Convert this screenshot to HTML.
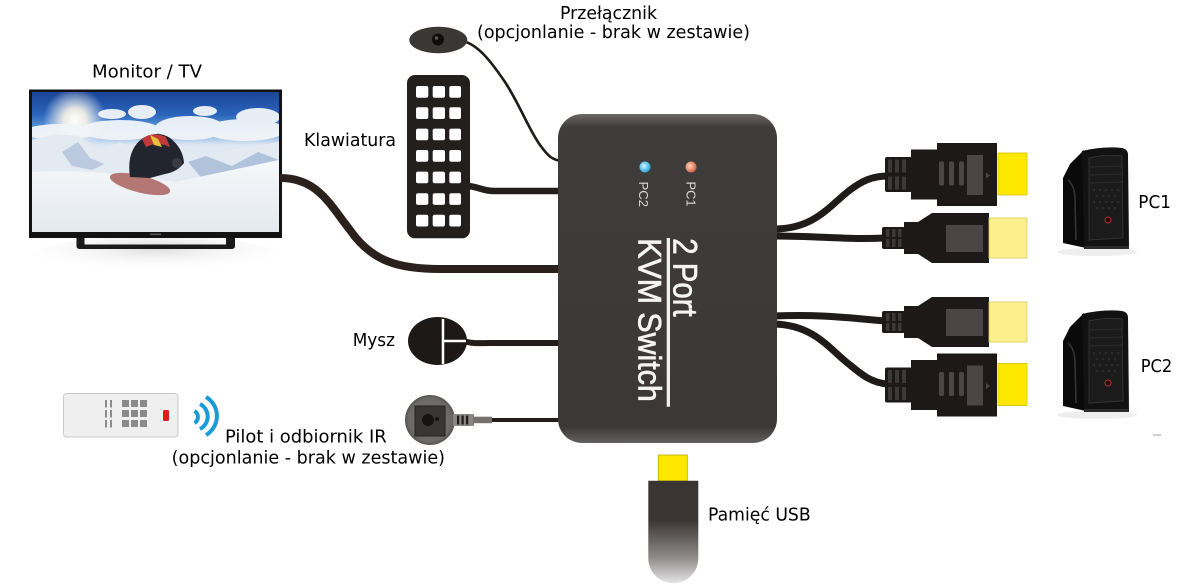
<!DOCTYPE html>
<html><head><meta charset="utf-8"><style>
html,body{margin:0;padding:0;background:#fff;}
svg{display:block;}
.lb{font-family:"DejaVu Sans","Liberation Sans",sans-serif;font-size:17.5px;fill:#000;}
</style></head><body>
<svg width="1200" height="588" viewBox="0 0 1200 588" xmlns="http://www.w3.org/2000/svg">
<defs>
  <linearGradient id="sky" x1="0" y1="0" x2="0" y2="1">
    <stop offset="0" stop-color="#1a4596"/>
    <stop offset="0.16" stop-color="#2a64bb"/>
    <stop offset="0.26" stop-color="#5d9ad8"/>
    <stop offset="0.38" stop-color="#dfe8f2"/>
    <stop offset="1" stop-color="#eef2f6"/>
  </linearGradient>
  <radialGradient id="sun" cx="0.5" cy="0.5" r="0.5">
    <stop offset="0" stop-color="#ffffff" stop-opacity="1"/>
    <stop offset="0.35" stop-color="#fff8e8" stop-opacity="0.9"/>
    <stop offset="1" stop-color="#ffffff" stop-opacity="0"/>
  </radialGradient>
  <linearGradient id="snow" x1="0" y1="0" x2="0" y2="1">
    <stop offset="0" stop-color="#f6f8fa"/>
    <stop offset="1" stop-color="#e4e9ef"/>
  </linearGradient>
  <radialGradient id="refl" cx="0.5" cy="0.3" r="0.6">
    <stop offset="0" stop-color="#dcdcdc"/>
    <stop offset="1" stop-color="#ffffff" stop-opacity="0"/>
  </radialGradient>
  <linearGradient id="box" x1="0" y1="0" x2="0" y2="1">
    <stop offset="0" stop-color="#6a6766"/>
    <stop offset="0.04" stop-color="#3f3c3b"/>
    <stop offset="0.95" stop-color="#3b3837"/>
    <stop offset="1" stop-color="#636060"/>
  </linearGradient>
  <linearGradient id="usb" x1="0" y1="0" x2="0" y2="1">
    <stop offset="0" stop-color="#3a3533"/>
    <stop offset="0.38" stop-color="#3a3533"/>
    <stop offset="0.75" stop-color="#8e8b8a"/>
    <stop offset="1" stop-color="#e6e6e6"/>
  </linearGradient>
  <radialGradient id="ledb" cx="0.4" cy="0.4" r="0.6">
    <stop offset="0" stop-color="#c8f4ff"/>
    <stop offset="1" stop-color="#2ba6dc"/>
  </radialGradient>
  <radialGradient id="ledo" cx="0.4" cy="0.4" r="0.6">
    <stop offset="0" stop-color="#ffd0b8"/>
    <stop offset="1" stop-color="#d8694a"/>
  </radialGradient>
  <radialGradient id="ir" cx="0.5" cy="0.5" r="0.5">
    <stop offset="0" stop-color="#7c7876"/>
    <stop offset="0.85" stop-color="#6d6967"/>
    <stop offset="1" stop-color="#555"/>
  </radialGradient>
  <clipPath id="scr"><rect x="32" y="92" width="247" height="140"/></clipPath>

  <g id="hA">
    <rect x="885" y="-17.5" width="27" height="35" rx="2" fill="#1d1918"/>
    <rect x="888" y="-15" width="4" height="13" fill="#3e3939"/>
    <rect x="895" y="-15" width="4" height="13" fill="#3e3939"/>
    <rect x="902" y="-15" width="4" height="13" fill="#3e3939"/>
    <rect x="888" y="2" width="4" height="13" fill="#3e3939"/>
    <rect x="895" y="2" width="4" height="13" fill="#3e3939"/>
    <rect x="902" y="2" width="4" height="13" fill="#3e3939"/>
    <path d="M911,-25 H937 V-31.5 H997 V31.5 H937 V25 H911 Z" fill="#1d1918"/>
    <rect x="939" y="-13" width="5" height="24" rx="1.5" fill="#4b4545"/>
    <rect x="949" y="-13" width="5" height="24" rx="1.5" fill="#4b4545"/>
    <rect x="959" y="-13" width="5" height="24" rx="1.5" fill="#4b4545"/>
    <rect x="967" y="-19.5" width="16" height="40" fill="#4b4545"/>
    <path d="M986,-2 L990,1 L986,4 Z" fill="#4b4545"/>
    <rect x="998" y="-21.5" width="29" height="42" fill="#ffe800" stroke="#d2c000" stroke-width="0.8"/>
  </g>
  <g id="hB">
    <rect x="882" y="-11" width="25" height="22" rx="2" fill="#1d1918"/>
    <rect x="886" y="-9" width="3.5" height="8" fill="#3e3939"/>
    <rect x="892" y="-9" width="3.5" height="8" fill="#3e3939"/>
    <rect x="898" y="-9" width="3.5" height="8" fill="#3e3939"/>
    <rect x="886" y="1" width="3.5" height="8" fill="#3e3939"/>
    <rect x="892" y="1" width="3.5" height="8" fill="#3e3939"/>
    <rect x="898" y="1" width="3.5" height="8" fill="#3e3939"/>
    <path d="M904,-16 L918,-16 L932,-25 H989 V25 H932 L918,16 H904 Z" fill="#1d1918"/>
    <rect x="946" y="-13" width="37" height="27" fill="#4b4545"/>
    <rect x="989" y="-20" width="38" height="40" fill="#fcef8c" stroke="#d9cc66" stroke-width="0.8"/>
  </g>
  <g id="pc">
    <ellipse cx="1097" cy="252" rx="40" ry="4" fill="#eeeeee"/>
    <path d="M1063,178 L1070,164 L1084,150 L1086,248 L1063,243 Z" fill="#0a0a0a"/>
    <path d="M1068,180 Q1075,186 1075,200 L1076,240" stroke="#333" stroke-width="1.6" fill="none"/>
    <path d="M1082,151 Q1104,146 1122,148 Q1128,149 1128,155 L1129,247 L1084,249 Z" fill="#121212"/>
    <path d="M1089,158 Q1106,154 1122,156 L1123,238 L1089,240 Z" fill="#1b1b1b" stroke="#343434" stroke-width="0.9"/>
    <line x1="1090" y1="167" x2="1122" y2="166" stroke="#333" stroke-width="0.7"/>
    <line x1="1090" y1="175" x2="1122" y2="174" stroke="#333" stroke-width="0.7"/>
    <line x1="1090" y1="183" x2="1122" y2="182" stroke="#333" stroke-width="0.7"/>
    <g fill="#2a2a2a">
      <circle cx="1094" cy="190" r="1.3"/><circle cx="1100" cy="190" r="1.3"/><circle cx="1106" cy="190" r="1.3"/><circle cx="1112" cy="190" r="1.3"/><circle cx="1118" cy="190" r="1.3"/>
      <circle cx="1097" cy="196" r="1.3"/><circle cx="1103" cy="196" r="1.3"/><circle cx="1109" cy="196" r="1.3"/><circle cx="1115" cy="196" r="1.3"/>
      <circle cx="1094" cy="202" r="1.3"/><circle cx="1100" cy="202" r="1.3"/><circle cx="1106" cy="202" r="1.3"/><circle cx="1112" cy="202" r="1.3"/><circle cx="1118" cy="202" r="1.3"/>
      <circle cx="1097" cy="208" r="1.3"/><circle cx="1103" cy="208" r="1.3"/><circle cx="1109" cy="208" r="1.3"/><circle cx="1115" cy="208" r="1.3"/>
    </g>
    <circle cx="1108" cy="220" r="3" fill="#2a0a0a" stroke="#b03535" stroke-width="1"/>
    <rect x="1084" y="246" width="45" height="3" fill="#2b2b2b"/>
  </g>
</defs>

<!-- TV reflection -->
<ellipse cx="156" cy="256" rx="125" ry="20" fill="url(#refl)"/>
<!-- TV -->
<rect x="29" y="89.5" width="253" height="148.5" fill="#121212"/>
<g clip-path="url(#scr)">
  <rect x="32" y="92" width="247" height="140" fill="url(#sky)"/>
  <circle cx="75" cy="120" r="32" fill="url(#sun)"/>
  <!-- clouds -->
  <g fill="#f2f5f9" opacity="0.95">
    <ellipse cx="112" cy="114" rx="14" ry="5"/>
    <ellipse cx="142" cy="112" rx="14" ry="7"/>
    <ellipse cx="205" cy="111" rx="12" ry="5"/>
    <ellipse cx="258" cy="117" rx="22" ry="9"/>
    <ellipse cx="60" cy="132" rx="36" ry="8"/>
    <ellipse cx="120" cy="130" rx="40" ry="10"/>
    <ellipse cx="190" cy="128" rx="35" ry="12"/>
    <ellipse cx="245" cy="130" rx="40" ry="11"/>
  </g>
  <!-- mountains -->
  <path d="M32,140 L55,134 L78,136 L100,150 L120,142 L140,150 L175,146 L200,158 L230,150 L279,142 L279,185 L32,185 Z" fill="#e3eaf2"/>
  <path d="M62,152 L78,142 L90,158 L104,164 L92,170 L72,166 Z" fill="#a9bcd5" opacity="0.7"/>
  <path d="M188,162 L206,156 L232,166 L258,152 L279,160 L279,176 L205,182 Z" fill="#a0b5d2" opacity="0.75"/>
  <!-- foreground snow -->
  <path d="M32,172 Q90,168 175,182 L279,160 L279,232 L32,232 Z" fill="url(#snow)"/>
  <!-- snowboarder -->
  <ellipse cx="140" cy="184" rx="31" ry="8.5" transform="rotate(14 140 184)" fill="#b57774"/>
  <path d="M130,177 Q126,150 143,138 Q158,130 170,138 Q183,148 184,163 Q177,172 165,174 L150,178 Z" fill="#23252e"/>
  <path d="M142,139 Q152,131 166,137 L170,147 Q158,141 146,147 Z" fill="#c03a3a"/>
  <path d="M150,135 L158,139 L162,147 L154,145 Z" fill="#e5c23a"/>
  <circle cx="177" cy="163" r="5" fill="#3a3a44"/>
</g>
<rect x="150" y="233.5" width="11" height="1.6" fill="#555"/>
<!-- stand -->
<path d="M76.5,238 L84.5,238 L84.5,244.5 L226,244.5 L226,238 L235,238 L235,246 Q235,249 231,249 L80,249 Q76.5,249 76.5,246 Z" fill="#1a1a1a"/>

<!-- cables left -->
<path d="M280,178 C318,178 330,205 350,230 C372,262 400,269 440,269 L562,269" stroke="#2a211d" stroke-width="8" fill="none"/>
<path d="M466,186 C478,186 481,191 495,191 L562,191" stroke="#231e1c" stroke-width="6.5" fill="none"/>
<path d="M463,41 C478,45 490,60 505,82 C520,105 528,128 540,145 C548,156 552,160 562,161" stroke="#1e1a18" stroke-width="2.6" fill="none"/>
<path d="M464,341 C472,344 480,343 490,343 L562,343" stroke="#231e1c" stroke-width="6" fill="none"/>
<path d="M488,420 L562,420" stroke="#231e1c" stroke-width="4" fill="none"/>

<!-- cables right -->
<path d="M774,229 C815,229 830,205 850,190 C862,181 872,176 888,176" stroke="#1f1b1a" stroke-width="7" fill="none"/>
<path d="M774,236 C820,236 850,240 885,238" stroke="#1f1b1a" stroke-width="7" fill="none"/>
<path d="M774,316 C820,314 850,318 885,321" stroke="#1f1b1a" stroke-width="7" fill="none"/>
<path d="M774,324 C815,325 830,350 850,365 C862,375 872,383 888,384" stroke="#1f1b1a" stroke-width="7" fill="none"/>

<!-- HDMI connectors -->
<use href="#hA" transform="translate(0,174.5)"/>
<use href="#hB" transform="translate(0,238)"/>
<use href="#hB" transform="translate(0,322)"/>
<use href="#hA" transform="translate(0,385)"/>

<!-- PCs -->
<use href="#pc"/>
<use href="#pc" transform="translate(0,163)"/>
<rect x="1153" y="434" width="8" height="2" fill="#cfcfcf"/>

<!-- switch button -->
<ellipse cx="438.3" cy="40" rx="29" ry="13.3" fill="#3b3735"/>
<circle cx="438" cy="39.5" r="6" fill="#0f0d0c"/>
<circle cx="436.5" cy="38" r="1.8" fill="#5a5554"/>

<!-- keyboard -->
<rect x="407" y="75" width="63" height="163.3" rx="8" fill="#231f1d"/>
<g fill="#ffffff">
  <rect x="416" y="86" width="12.3" height="11.7" rx="2"/><rect x="432.7" y="86" width="12.3" height="11.7" rx="2"/><rect x="449.3" y="86" width="11.7" height="11.7" rx="2"/>
  <rect x="416" y="107.3" width="12.3" height="11.7" rx="2"/><rect x="432.7" y="107.3" width="12.3" height="11.7" rx="2"/><rect x="449.3" y="107.3" width="11.7" height="11.7" rx="2"/>
  <rect x="416" y="128.6" width="12.3" height="11.7" rx="2"/><rect x="432.7" y="128.6" width="12.3" height="11.7" rx="2"/><rect x="449.3" y="128.6" width="11.7" height="11.7" rx="2"/>
  <rect x="416" y="150" width="12.3" height="11.7" rx="2"/><rect x="432.7" y="150" width="12.3" height="11.7" rx="2"/><rect x="449.3" y="150" width="11.7" height="11.7" rx="2"/>
  <rect x="416" y="171.6" width="12.3" height="11.7" rx="2"/><rect x="432.7" y="171.6" width="12.3" height="11.7" rx="2"/><rect x="449.3" y="171.6" width="11.7" height="11.7" rx="2"/>
  <rect x="416" y="193.2" width="12.3" height="11.7" rx="2"/><rect x="432.7" y="193.2" width="12.3" height="11.7" rx="2"/><rect x="449.3" y="193.2" width="11.7" height="11.7" rx="2"/>
  <rect x="416" y="214.8" width="12.3" height="11.7" rx="2"/><rect x="432.7" y="214.8" width="12.3" height="11.7" rx="2"/><rect x="449.3" y="214.8" width="11.7" height="11.7" rx="2"/>
</g>

<!-- mouse -->
<ellipse cx="437.5" cy="341" rx="29.5" ry="24" fill="#1d1917"/>
<line x1="443" y1="319" x2="443" y2="364" stroke="#fff" stroke-width="2.5"/>
<line x1="443" y1="341" x2="466" y2="341" stroke="#fff" stroke-width="2.5"/>

<!-- IR receiver -->
<circle cx="430" cy="420" r="25" fill="url(#ir)"/>
<rect x="415" y="406" width="30" height="30" fill="#3a3634" stroke="#242120" stroke-width="1"/>
<circle cx="428" cy="420" r="6" fill="#171312"/>
<circle cx="437" cy="419" r="2" fill="#171312"/>
<rect x="453" y="414" width="21" height="12" fill="#8a8683"/>
<rect x="457" y="415.5" width="2.2" height="9" fill="#1e1a19"/>
<rect x="461.5" y="415.5" width="2.2" height="9" fill="#1e1a19"/>
<rect x="466" y="415.5" width="2.2" height="9" fill="#1e1a19"/>
<rect x="473" y="416.7" width="19" height="6.5" fill="#77716e"/>

<!-- remote -->
<rect x="63.5" y="393.5" width="114.5" height="43.5" rx="3" fill="#efefef" stroke="#c9c9c9" stroke-width="1"/>
<g stroke="#555" stroke-width="1.3">
  <line x1="106" y1="400" x2="106" y2="407.5"/><line x1="106" y1="410" x2="106" y2="417.5"/><line x1="106" y1="420" x2="106" y2="427.5"/>
  <line x1="111" y1="400" x2="111" y2="407.5"/><line x1="111" y1="410" x2="111" y2="417.5"/><line x1="111" y1="420" x2="111" y2="427.5"/>
</g>
<g fill="#8a8a8a">
  <rect x="122" y="400" width="7" height="7"/><rect x="131" y="400" width="7" height="7"/><rect x="140" y="400" width="7" height="7"/>
  <rect x="122" y="410" width="7" height="7"/><rect x="131" y="410" width="7" height="7"/><rect x="140" y="410" width="7" height="7"/>
  <rect x="122" y="420" width="7" height="7"/><rect x="131" y="420" width="7" height="7"/><rect x="140" y="420" width="7" height="7"/>
</g>
<rect x="163" y="410" width="6" height="11" rx="1.5" fill="#e01b1b"/>
<g stroke="#1b9ad8" stroke-width="4" fill="none" stroke-linecap="butt">
  <path d="M194.5,411 A7,7 0 0 1 194.5,423"/>
  <path d="M200,404 A14,14 0 0 1 200,429"/>
  <path d="M206,397 A22,22 0 0 1 206,435"/>
</g>

<!-- KVM switch -->
<rect x="558" y="114" width="219" height="329" rx="24" fill="url(#box)"/>
<circle cx="645" cy="167" r="5.5" fill="url(#ledb)"/>
<circle cx="691" cy="167" r="5.5" fill="url(#ledo)"/>
<text transform="translate(639,181.5) rotate(90)" font-family="Liberation Sans, sans-serif" font-size="13" fill="#d9d9d9" textLength="25.6" lengthAdjust="spacingAndGlyphs">PC2</text>
<text transform="translate(686.7,181.5) rotate(90)" font-family="Liberation Sans, sans-serif" font-size="13" fill="#d9d9d9" textLength="25" lengthAdjust="spacingAndGlyphs">PC1</text>
<text transform="translate(673.3,238.3) rotate(90)" font-family="Liberation Sans, sans-serif" font-size="34" fill="#f4f4f4" stroke="#f4f4f4" stroke-width="0.7" textLength="78.4" lengthAdjust="spacingAndGlyphs">2 Port</text>
<text transform="translate(638.3,238.3) rotate(90)" font-family="Liberation Sans, sans-serif" font-size="32" fill="#f4f4f4" stroke="#f4f4f4" stroke-width="0.7" textLength="163.4" lengthAdjust="spacingAndGlyphs">KVM Switch</text>
<rect x="666.7" y="238" width="3.3" height="168.7" fill="#f0f0f0"/>

<!-- USB -->
<rect x="658.3" y="455" width="29" height="26" fill="#ffe800" stroke="#b9a900" stroke-width="0.8"/>
<path d="M648.3,480.7 L698.3,480.7 L698.3,558.3 A25,25 0 0 1 648.3,558.3 Z" fill="url(#usb)"/>

<!-- labels -->
<text class="lb" x="92" y="77.5" textLength="110" lengthAdjust="spacingAndGlyphs">Monitor / TV</text>
<text class="lb" x="560" y="19" textLength="97" lengthAdjust="spacingAndGlyphs">Przełącznik</text>
<text class="lb" x="477" y="37.8" textLength="273" lengthAdjust="spacingAndGlyphs">(opcjonlanie - brak w zestawie)</text>
<text class="lb" x="304" y="146" textLength="92" lengthAdjust="spacingAndGlyphs">Klawiatura</text>
<text class="lb" x="352.7" y="346" textLength="42.3" lengthAdjust="spacingAndGlyphs">Mysz</text>
<text class="lb" x="225" y="442.5" textLength="161.7" lengthAdjust="spacingAndGlyphs">Pilot i odbiornik IR</text>
<text class="lb" x="171.7" y="463.3" textLength="273.3" lengthAdjust="spacingAndGlyphs">(opcjonlanie - brak w zestawie)</text>
<text class="lb" x="1138.3" y="208" textLength="32.7" lengthAdjust="spacingAndGlyphs">PC1</text>
<text class="lb" x="1140.7" y="372.2" textLength="31.6" lengthAdjust="spacingAndGlyphs">PC2</text>
<text class="lb" x="708" y="520.7" textLength="102.7" lengthAdjust="spacingAndGlyphs">Pamięć USB</text>
</svg>
</body></html>
